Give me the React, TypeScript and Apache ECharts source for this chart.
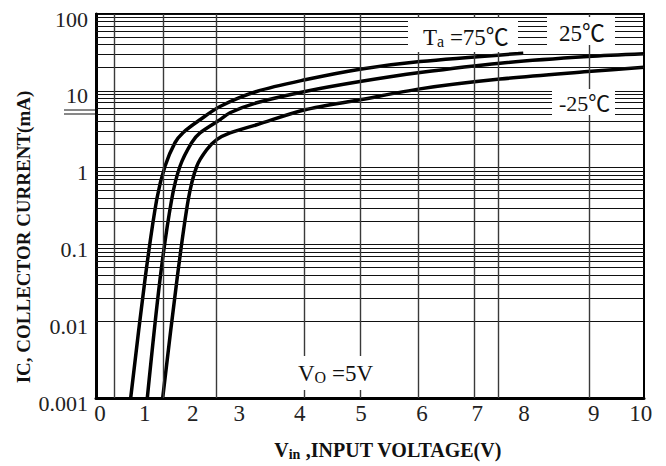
import React, { useEffect, useRef } from "react";
import * as echarts from "echarts";

const SERIF = "'Liberation Serif', 'Times New Roman', 'Noto Sans CJK SC', serif";

const xTickLabels = ["0", "1", "2", "3", "4", "5", "6", "7", "8", "9", "10"];
const xTickPositions = [0.073, 0.889, 1.764, 2.615, 3.717, 4.836, 5.949, 6.958, 7.81, 9.082, 9.94];
const xGridLines = [0.33, 1.22, 2.19, 3.8, 4.82, 5.88, 6.9, 7.34, 9.0];

const yTickLabels = ["0.001", "0.01", "0.1", "1", "10", "100"];
const yDecades = [0.001, 0.01, 0.1, 1, 10];
const yMinorSteps = [2, 3, 4, 5, 6, 7, 8, 9];

const curve75: [number, number][] = [
  [0.633, 0.001], [0.894, 0.035], [1.108, 0.384], [1.259, 1.04], [1.442, 2.11],
  [1.588, 2.85], [1.898, 4.2], [2.263, 6.25], [2.932, 9.8], [3.814, 13.9],
  [4.818, 19.1], [5.912, 24.0], [7.797, 30.9],
];
const curve25: [number, number][] = [
  [0.936, 0.001], [1.168, 0.035], [1.381, 0.384], [1.533, 1.04], [1.746, 2.11],
  [1.898, 2.83], [2.263, 4.2], [2.445, 5.18], [2.932, 6.98], [3.814, 9.8],
  [4.818, 13.2], [5.912, 17.3], [7.372, 22.9], [8.978, 27.9], [10, 30.3],
];
const curveM25: [number, number][] = [
  [1.217, 0.001], [1.478, 0.035], [1.684, 0.384], [1.838, 1.04], [2.02, 1.71],
  [2.203, 2.31], [2.445, 2.83], [2.932, 3.61], [3.814, 5.66], [4.818, 7.64],
  [5.912, 10.6], [7.372, 14.2], [8.978, 17.8], [10, 20.3],
];

const curves = [
  { name: "75", data: curve75 },
  { name: "25", data: curve25 },
  { name: "-25", data: curveM25 },
];

function labelBox(x: number, y: number, w: number, h: number, tx: number, ty: number, text: string, rich: any) {
  return {
    type: "group",
    z: 50,
    children: [
      { type: "rect", shape: { x, y, width: w, height: h }, style: { fill: "#fff" }, z: 50 },
      {
        type: "text",
        x: tx,
        y: ty,
        z: 51,
        style: { text, rich, fill: "#111", align: "left", verticalAlign: "middle", fontFamily: SERIF },
      },
    ],
  };
}

export default function App() {
  const ref = useRef<HTMLDivElement>(null);
  useEffect(() => {
    if (!ref.current) return;
    const chart = echarts.init(ref.current, null, { renderer: "svg" });

    const minorY: number[] = [];
    yDecades.forEach((d) => yMinorSteps.forEach((m) => minorY.push(+(d * m).toPrecision(3))));

    const big = { fontSize: 23, fontFamily: SERIF, color: "#111", lineHeight: 24 };
    const option: any = {
      animation: false,
      backgroundColor: "#fff",
      grid: { left: 96, right: 22, top: 14, bottom: 67, show: true, borderColor: "#000", borderWidth: 2 },
      xAxis: {
        type: "value",
        min: 0,
        max: 10,
        axisLine: { show: true, onZero: false, lineStyle: { color: "#000", width: 3 } },
        axisTick: { show: false },
        splitLine: { show: false },
        axisLabel: {
          customValues: xTickPositions,
          formatter: (v: number) => {
            const i = xTickPositions.findIndex((p) => Math.abs(p - v) < 1e-6);
            return i >= 0 ? xTickLabels[i] : "";
          },
          fontFamily: SERIF,
          fontSize: 23,
          color: "#222",
          margin: 4,
        },
        name: "{v|V}{s|in}{v| ,INPUT VOLTAGE(V)}",
        nameLocation: "middle",
        nameGap: 41,
        nameTextStyle: {
          padding: [0, 0, 0, 36],
          rich: {
            v: { fontSize: 20, fontWeight: "bold", fontFamily: SERIF, color: "#111", lineHeight: 22 },
            s: { fontSize: 14, fontWeight: "bold", fontFamily: SERIF, color: "#111", lineHeight: 13, verticalAlign: "bottom" },
          },
        },
      },
      yAxis: {
        type: "log",
        logBase: 10,
        min: 0.001,
        max: 100,
        axisLine: { show: true, lineStyle: { color: "#000", width: 3 } },
        axisTick: { show: false },
        splitLine: { show: true, lineStyle: { color: "#111", width: 1 } },
        axisLabel: {
          formatter: (v: number) => yTickLabels[Math.round(Math.log10(v)) + 3] ?? "",
          fontFamily: SERIF,
          fontSize: 22,
          color: "#222",
          margin: 8,
          verticalAlign: "top",
          lineHeight: 10,
        },
        name: "IC, COLLECTOR CURRENT(mA)",
        nameLocation: "middle",
        nameGap: 63,
        nameMoveOverlap: false,
        nameTextStyle: {
          fontSize: 19,
          fontWeight: "bold",
          fontFamily: SERIF,
          color: "#111",
          padding: [0, 62, 0, 0],
        },
      },
      series: [
        {
          type: "line",
          data: [],
          z: 1,
          silent: true,
          markLine: {
            silent: true,
            symbol: ["none", "none"],
            label: { show: false },
            animation: false,
            data: [
              ...minorY.map((v) => ({ yAxis: v, lineStyle: { color: "#111", width: 1, type: "solid" } })),
              ...xGridLines.map((v) => ({ xAxis: v, lineStyle: { color: "#3a3a3a", width: 1.4, type: "solid" } })),
            ],
          },
        },
        ...curves.map((c) => ({
          type: "line",
          name: c.name,
          data: c.data,
          z: 3,
          smooth: 0.3,
          showSymbol: false,
          symbol: "none",
          lineStyle: { color: "#000", width: 3.5 },
          clip: true,
        })),
      ],
      graphic: [
        { type: "line", shape: { x1: 64, y1: 110, x2: 96, y2: 110 }, style: { stroke: "#111", lineWidth: 1 } },
        { type: "line", shape: { x1: 64, y1: 114, x2: 96, y2: 114 }, style: { stroke: "#111", lineWidth: 1 } },
        labelBox(408, 18, 110, 34, 423, 37, "{t|T}{a|a}{t| =75℃}", {
          t: big,
          a: { fontSize: 16, fontFamily: SERIF, color: "#111", verticalAlign: "bottom", lineHeight: 24 },
        }),
        labelBox(547, 17, 68, 28, 559, 33, "{t|25℃}", { t: big }),
        labelBox(552, 89, 63, 26, 559, 103, "{t|-25℃}", { t: { ...big, fontSize: 22 } }),
        labelBox(288, 356, 102, 34, 298, 373, "{t|V}{o|O}{t| =5V}", {
          t: big,
          o: { fontSize: 16, fontFamily: SERIF, color: "#111", verticalAlign: "bottom", lineHeight: 20 },
        }),
      ],
    };
    chart.setOption(option);
    return () => chart.dispose();
  }, []);
  return <div ref={ref} style={{ position: "fixed", left: 0, top: 0, width: 666, height: 466 }} />;
}
